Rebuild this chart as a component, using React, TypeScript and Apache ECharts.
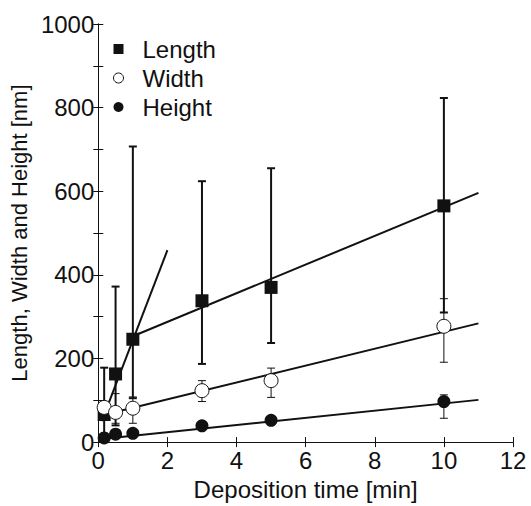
import React, { useEffect, useRef } from "react";
import * as echarts from "echarts";

const times = [0.17, 0.5, 1, 3, 5, 10];

const lengthVals = [66, 163, 246, 338, 370, 565];
const lengthUpper = [178, 372, 707, 624, 655, 823];
const lengthLower = [0, 40, 105, 187, 237, 310];

const widthVals = [83, 71, 81, 123, 147, 277];
const widthUpper = [96, 116, 108, 147, 177, 343];
const widthLower = [72, 45, 45, 97, 107, 191];

const heightVals = [10, 19, 21, 39, 52, 97];
const heightUpper = [14, 24, 27, 45, 60, 113];
const heightLower = [6, 14, 15, 33, 44, 57];

const lengthFitEarly = [[0.1, 50], [2, 459]];
const lengthFitLate = [[1.05, 255], [11, 596]];
const widthFit = [[0.2, 66], [11, 284]];
const heightFit = [[0.17, 8], [11, 101]];

const xLabelTitle = "Deposition time [min]";
const yLabelTitle = "Length, Width and Height [nm]";

const FONT = "'Liberation Sans', Arial, sans-serif";
const INK = "#111";

function errorSeries(name: string, upper: number[], lower: number[], lw: number) {
  const data = times.map((t, i) => [t, lower[i], upper[i]]);
  return {
    type: "custom",
    name,
    clip: true,
    silent: true,
    z: 3,
    data,
    renderItem: (params: any, api: any) => {
      const x = api.value(0);
      const lo = api.coord([x, api.value(1)]);
      const hi = api.coord([x, api.value(2)]);
      const half = 4;
      const style = { stroke: INK, lineWidth: lw };
      return {
        type: "group",
        children: [
          { type: "line", shape: { x1: lo[0], y1: lo[1], x2: hi[0], y2: hi[1] }, style },
          { type: "line", shape: { x1: hi[0] - half, y1: hi[1], x2: hi[0] + half, y2: hi[1] }, style },
          { type: "line", shape: { x1: lo[0] - half, y1: lo[1], x2: lo[0] + half, y2: lo[1] }, style },
        ],
      };
    },
  };
}

function fitSeries(pts: number[][]) {
  return {
    type: "line",
    data: pts,
    symbol: "none",
    silent: true,
    z: 2,
    lineStyle: { color: INK, width: 2 },
  };
}

export default function App() {
  const ref = useRef<HTMLDivElement>(null);
  useEffect(() => {
    if (!ref.current) return;
    const chart = echarts.init(ref.current, null, { renderer: "svg" });
    const axisCommon = {
      axisLine: { show: true, lineStyle: { color: INK, width: 1 } },
      axisTick: { show: true, inside: true, length: 5, lineStyle: { color: INK } },
      splitLine: { show: false },
    };
    chart.setOption({
      animation: false,
      backgroundColor: "#fff",
      grid: { left: 93, right: 18, top: 24, bottom: 58 },
      textStyle: { fontFamily: FONT },
      legend: {
        orient: "vertical",
        left: 113,
        top: 37,
        padding: 0,
        itemWidth: 10,
        itemHeight: 10,
        itemGap: 5,
        textStyle: { fontSize: 24, lineHeight: 24, color: INK, fontFamily: FONT, padding: [0, 0, 0, 14] },
        data: [
          { name: "Length", icon: "rect", itemStyle: { color: INK } },
          { name: "Width", icon: "circle", itemStyle: { color: "#fff", borderColor: INK, borderWidth: 1 } },
          { name: "Height", icon: "circle", itemStyle: { color: INK } },
        ],
      },
      xAxis: [
        {
          type: "value",
          min: 0,
          max: 12,
          interval: 2,
          name: xLabelTitle,
          nameLocation: "middle",
          nameGap: 33,
          nameTextStyle: { fontSize: 24, color: INK, fontFamily: FONT },
          axisLabel: { fontSize: 24, color: INK, margin: 6, fontFamily: FONT },
          ...axisCommon,
        },
        {
          type: "value",
          position: "top",
          min: 0,
          max: 12,
          interval: 2,
          axisLabel: { show: false },
          ...axisCommon,
        },
      ],
      yAxis: [
        {
          type: "value",
          min: 0,
          max: 1000,
          interval: 200,
          name: yLabelTitle,
          nameLocation: "middle",
          nameGap: 59,
          nameTextStyle: { fontSize: 22, color: INK, fontFamily: FONT },
          axisLabel: { fontSize: 24, color: INK, margin: 4, fontFamily: FONT, formatter: (v: number) => String(v) },
          minorTick: { show: true, splitNumber: 2, length: 5, lineStyle: { color: INK } },
          ...axisCommon,
        },
        {
          type: "value",
          position: "right",
          min: 0,
          max: 1000,
          interval: 200,
          axisLabel: { show: false },
          minorTick: { show: true, splitNumber: 2, length: 5, lineStyle: { color: INK } },
          ...axisCommon,
        },
      ],
      series: [
        fitSeries(lengthFitEarly),
        fitSeries(lengthFitLate),
        fitSeries(widthFit),
        fitSeries(heightFit),
        errorSeries("LengthErr", lengthUpper, lengthLower, 2),
        errorSeries("WidthErr", widthUpper, widthLower, 1),
        errorSeries("HeightErr", heightUpper, heightLower, 1),
        {
          type: "scatter",
          name: "Length",
          z: 5,
          symbol: "rect",
          symbolSize: 13,
          itemStyle: { color: INK, opacity: 1 },
          data: times.map((t, i) => [t, lengthVals[i]]),
        },
        {
          type: "scatter",
          name: "Width",
          z: 5,
          symbol: "circle",
          symbolSize: 14,
          itemStyle: { color: "#fff", borderColor: INK, borderWidth: 1, opacity: 1 },
          data: times.map((t, i) => [t, widthVals[i]]),
        },
        {
          type: "scatter",
          name: "Height",
          z: 5,
          symbol: "circle",
          symbolSize: 13,
          itemStyle: { color: INK, opacity: 1 },
          data: times.map((t, i) => [t, heightVals[i]]),
        },
      ],
    });
    return () => chart.dispose();
  }, []);
  return <div ref={ref} style={{ width: 531, height: 506, position: "absolute", left: 0, top: 0 }} />;
}
